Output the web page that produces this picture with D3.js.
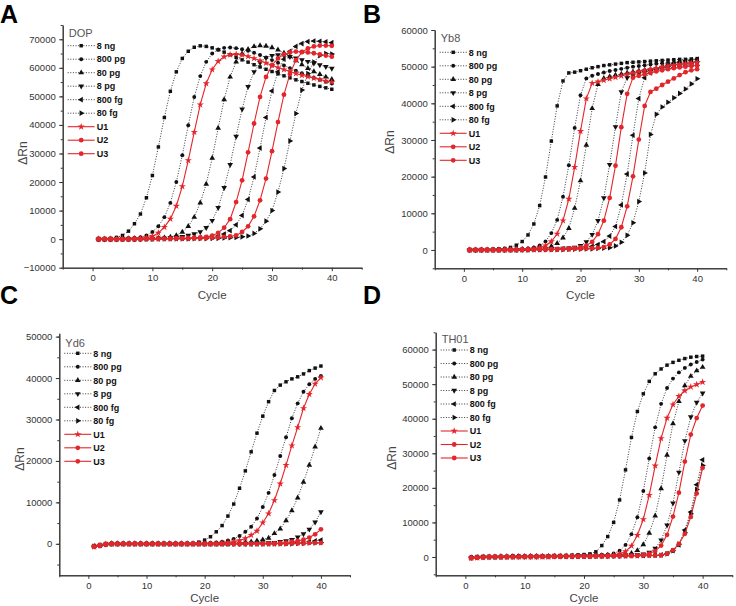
<!DOCTYPE html>
<html>
<head>
<meta charset="utf-8">
<script src="https://cdn.jsdelivr.net/npm/d3@7"></script>
<style>
body{margin:0;background:#fff;}
svg{display:block;font-family:Arial,"Liberation Sans",sans-serif;}
</style>
</head>
<body>
<div id="chart"></div>
<script>
// cycle numbers (x) and legend labels
const cycles = [1,2,3,4,5,6,7,8,9,10,11,12,13,14,15,16,17,18,19,20,21,22,23,24,25,26,27,28,29,30,31,32,33,34,35,36,37,38,39,40];
const labels = ["8 ng","800 pg","80 pg","8 pg","800 fg","80 fg","U1","U2","U3"];
const xTicks = [0,10,20,30,40];

// ---- A : DOP ----
const dop_8ng  = [0,100,200,600,1300,2800,5400,8800,14500,22300,32300,42600,51800,58600,63300,65800,67200,67700,67500,67000,66300,65500,64600,63700,62800,62000,61100,60300,59500,58700,57900,57200,56500,55800,55200,54600,54000,53500,53000,52500];
const dop_800pg = [0,0,100,100,200,300,400,700,1300,2500,4500,7700,12700,20000,29400,39900,49800,57100,62100,65000,66400,67000,67100,66900,66500,66000,65300,64500,63600,62700,61800,60800,59900,59000,58100,57300,56500,55800,55100,54500];
const dop_80pg = [0,0,0,100,100,100,200,200,200,300,400,500,700,1300,2500,4500,7700,12700,19300,28400,38900,48900,56800,62100,65000,66500,67500,67800,67600,67100,66300,65200,63900,62500,61100,59800,58700,57700,56800,56000];
const dop_8pg = [0,0,0,0,100,100,100,100,200,200,300,300,400,600,900,1300,1800,2500,4000,6500,11000,18000,26100,36000,45500,53400,58600,61800,63500,64300,64500,64300,63900,63400,62800,62200,61600,61000,60400,59800];
const dop_800fg = [0,0,0,0,0,0,0,100,100,100,100,200,200,200,300,300,400,500,600,800,1100,1800,3000,5000,8300,13900,21800,31900,42600,51900,58600,63000,65800,67500,68500,69200,69400,69300,69100,68800];
const dop_80fg = [0,0,0,0,0,0,0,0,0,0,100,100,100,100,100,100,200,200,200,300,300,400,500,600,800,1100,2000,3600,6300,10000,16500,24700,34400,44000,52200,58000,62000,64300,65000,64800];
const dop_U1 = [0,0,0,0,100,100,200,300,500,1000,2200,4200,7100,11600,18500,27600,37500,47100,54500,59400,62300,63900,64600,64800,64500,64000,63300,62500,61700,60900,60100,59400,58700,58000,57400,56900,56400,55900,55400,55000];
const dop_U2 = [0,0,0,0,0,0,100,100,100,100,200,200,200,300,300,400,500,600,800,1200,2200,4000,7000,13000,20600,30400,40500,49800,56800,60900,63300,64700,65400,65700,65600,65400,65100,64700,64300,63900];
const dop_U3 = [0,0,0,0,0,0,0,0,100,100,100,100,100,200,200,200,300,300,400,500,600,800,1000,1300,2500,4500,8000,13600,21200,30800,41000,50600,57800,62700,65500,66800,67500,67800,67800,67700];
const dopTicks = [-10000,0,10000,20000,30000,40000,50000,60000,70000];

// ---- B : Yb8 ----
const yb8_8ng = [0,0,100,100,200,300,400,700,1300,2300,4100,7100,12100,19900,29700,39300,46100,48300,48500,48900,49300,49700,50000,50300,50500,50700,50900,51100,51200,51300,51400,51500,51600,51700,51800,51900,52000,52000,52100,52200];
const yb8_800pg = [0,0,0,0,100,100,100,200,200,300,400,700,1200,2300,4600,8200,14500,23100,33300,42200,46800,47500,48000,48400,48800,49100,49400,49700,50000,50200,50400,50600,50800,50900,51000,51100,51200,51300,51400,51500];
const yb8_80pg = [0,0,0,0,0,0,100,100,100,200,200,300,400,600,1000,1800,3300,5900,11400,18900,28600,38600,45200,46800,47300,47700,48000,48300,48600,48900,49100,49300,49500,49700,49900,50100,50200,50400,50500,50600];
const yb8_8pg = [0,0,0,0,0,0,0,100,100,100,100,200,200,200,300,300,400,500,700,1200,2200,4200,8000,14200,23300,33600,43100,47000,47600,48100,48500,48900,49300,49600,49900,50200,50400,50600,50800,51000];
const yb8_800fg = [0,0,0,0,0,0,0,0,0,100,100,100,100,200,200,200,300,300,400,500,700,1000,1500,2300,3800,6400,12300,20700,31300,41300,47000,48300,49200,49900,50400,50900,51300,51600,51800,52000];
const yb8_80fg = [0,0,0,0,0,0,0,0,0,0,0,100,100,100,100,100,100,200,200,200,300,300,400,500,600,1100,2100,4000,7400,13200,21000,31500,37000,39000,40300,41500,42700,43900,45300,46700];
const yb8_U1 = [0,0,0,0,0,0,100,100,100,200,200,300,600,1200,2300,4400,8000,13900,22600,32400,41300,45500,45900,46300,46700,47100,47500,47900,48300,48700,49000,49300,49600,49900,50200,50400,50600,50800,51000,51200];
const yb8_U2 = [0,0,0,0,0,0,0,0,100,100,100,100,200,200,200,200,300,400,500,700,1200,2200,4300,8000,14200,23000,33500,42600,47000,47500,47900,48300,48700,49000,49300,49600,49800,50000,50200,50300];
const yb8_U3 = [0,0,0,0,0,0,0,0,0,0,100,100,100,100,100,200,200,200,300,300,400,500,600,800,1500,3000,6200,11900,20100,30100,39300,43100,44000,45000,45900,46800,47700,48500,49000,49300];
const yb8Ticks = [0,10000,20000,30000,40000,50000,60000];

// ---- C : Yd6 ----
const yd6_8ng = [-600,-400,-100,0,0,0,0,0,0,0,0,0,0,0,0,0,0,0,400,900,1700,2900,4400,6700,9600,13400,17600,22200,26700,30800,34300,37000,38300,39100,39800,40300,41000,41800,42400,42900];
const yd6_800pg = [-600,-400,-100,0,0,0,0,0,0,0,0,0,0,0,0,0,0,0,0,0,200,300,500,800,1200,1900,2900,4100,6100,8900,12300,16600,21200,25700,30300,33900,36700,38500,39800,40500];
const yd6_80pg = [-600,-400,-100,0,0,0,0,0,0,0,0,0,0,0,0,0,0,0,0,0,0,0,0,0,100,200,300,500,700,1000,1400,2500,3600,5600,8000,11100,14900,19000,23400,27900];
const yd6_8pg = [-600,-400,-100,0,0,0,0,0,0,0,0,0,0,0,0,0,0,0,0,0,0,0,0,0,0,0,0,0,100,100,200,300,500,700,1000,1600,2400,3500,5200,7700];
const yd6_800fg = [-600,-400,-100,0,0,0,0,0,0,0,0,0,0,0,0,0,0,0,0,0,0,0,0,0,0,0,0,0,0,0,0,0,100,100,200,300,400,500,700,900];
const yd6_80fg = [-600,-400,-100,0,0,0,0,0,0,0,0,0,0,0,0,0,0,0,0,0,0,0,0,0,0,0,0,0,0,0,0,0,0,0,0,100,100,200,200,300];
const yd6_U1 = [-700,-400,-100,0,0,0,0,0,0,0,0,0,0,0,0,0,0,0,0,0,0,0,200,300,500,800,1300,2100,3100,5100,7300,10500,14500,19000,23700,28100,32700,36100,38600,40100];
const yd6_U2 = [-700,-400,-100,0,0,0,0,0,0,0,0,0,0,0,0,0,0,0,0,0,0,0,0,0,0,0,0,0,0,0,100,100,200,300,500,700,1000,1500,2300,3500];
const yd6_U3 = [-700,-400,-100,0,0,0,0,0,0,0,0,0,0,0,0,0,0,0,0,0,0,0,0,0,0,0,0,0,0,0,0,0,0,0,100,100,100,200,200,200];
const yd6Ticks = [0,10000,20000,30000,40000,50000];

// ---- D : TH01 ----
const th01_8ng = [-200,-100,0,0,100,100,100,200,200,200,300,300,300,300,400,400,400,500,600,700,900,1500,3300,5900,10000,16500,25200,34600,42100,47200,50800,53000,54400,55500,56300,56900,57400,57800,58000,58100];
const th01_800pg = [-200,-100,0,0,100,100,100,100,200,200,200,200,200,300,300,300,300,300,400,400,500,500,600,700,1000,1800,3500,6600,11500,19100,28500,37500,44300,48900,51600,53400,54700,55700,56400,57100];
const th01_80pg = [-200,-100,0,0,0,100,100,100,100,100,200,200,200,200,200,200,300,300,300,300,300,400,400,500,500,600,600,1100,1900,3600,6900,11900,19800,29500,38600,45000,49600,52300,53900,54900];
const th01_8pg = [-200,-100,0,0,0,0,100,100,100,100,100,100,200,200,200,200,200,200,300,300,300,300,300,300,400,400,500,500,600,800,1300,2500,4900,9200,15600,24500,33600,40500,44700,47400];
const th01_800fg = [-200,-100,0,0,0,0,0,100,100,100,100,100,100,100,200,200,200,200,200,200,200,300,300,300,300,300,300,400,400,400,500,500,600,1000,1800,3500,7800,13000,20900,28100];
const th01_80fg = [-200,-100,0,0,0,0,0,100,100,100,100,100,100,100,200,200,200,200,200,200,200,300,300,300,300,300,300,400,400,400,500,500,500,900,1800,3700,7000,12500,19500,26500];
const th01_U1 = [-300,-200,-100,0,0,0,0,0,100,100,100,100,100,100,200,200,200,200,200,200,300,300,300,300,500,900,1600,3200,6300,10900,17900,26400,34300,40200,44100,46500,48100,49200,49900,50600];
const th01_U2 = [-300,-200,-100,0,0,0,0,0,0,100,100,100,100,100,100,200,200,200,200,200,200,300,300,300,300,300,400,400,400,600,1000,1700,3300,6400,11700,18600,27600,35400,40200,43800];
const th01_U3 = [-300,-200,-100,0,0,0,0,0,0,100,100,100,100,100,100,100,200,200,200,200,200,200,200,300,300,300,300,300,400,400,400,400,500,1000,2000,3800,6700,11600,18400,25800];
const th01Ticks = [0,10000,20000,30000,40000,50000,60000];

const panels = [
  {letter:"A", lx:0, ly:23, title:"DOP", series:[dop_8ng,dop_800pg,dop_80pg,dop_8pg,dop_800fg,dop_80fg,dop_U1,dop_U2,dop_U3],
   yDomain:[-10000,75000], yTicks:dopTicks, left:62.7, right:361.7, top:25, bottom:267.7,
   titleDy:12, legDy:20.7, labX:23, labY:153, cycY:299},
  {letter:"B", lx:363, ly:23, title:"Yb8", series:[yb8_8ng,yb8_800pg,yb8_80pg,yb8_8pg,yb8_800fg,yb8_80fg,yb8_U1,yb8_U2,yb8_U3],
   yDomain:[-5000,60000], yTicks:yb8Ticks, left:434.7, right:726.3, top:30, bottom:268.3,
   titleDy:12, legDy:22.3, labX:390, labY:142, cycY:299},
  {letter:"C", lx:0, ly:304, title:"Yd6", series:[yd6_8ng,yd6_800pg,yd6_80pg,yd6_8pg,yd6_800fg,yd6_80fg,yd6_U1,yd6_U2,yd6_U3],
   yDomain:[-7600,50800], yTicks:yd6Ticks, left:59.3, right:350, top:333.3, bottom:575.3,
   titleDy:13.4, legDy:20, labX:20, labY:459, cycY:602},
  {letter:"D", lx:363, ly:304, title:"TH01", series:[th01_8ng,th01_800pg,th01_80pg,th01_8pg,th01_800fg,th01_80fg,th01_U1,th01_U2,th01_U3],
   yDomain:[-5300,65000], yTicks:th01Ticks, left:435.7, right:732.3, top:332.3, bottom:575.3,
   titleDy:10.4, legDy:17.7, labX:392, labY:458, cycY:602}
];

const red = "#e3262b";
const symTypes = [d3.symbolSquare,d3.symbolCircle,d3.symbolTriangle,d3.symbolTriangle,d3.symbolTriangle,d3.symbolTriangle,d3.symbolStar,d3.symbolCircle,d3.symbolCircle];
const symRot = [0,0,0,180,-90,90,0,0,0];
const symSize = [12,12,14,14,14,14,16,18,18];
const isRed = i => i >= 6;

const svg = d3.select("#chart").append("svg").attr("width",736).attr("height",606);

function styleAxis(sel){
  sel.attr("font-family","Arial, 'Liberation Sans', sans-serif").attr("font-size",9.5);
  sel.select(".domain").attr("stroke","#333");
  sel.selectAll(".tick line").attr("stroke","#333");
  sel.selectAll(".tick text").attr("fill","#333");
}

panels.forEach(p => {
  const g = svg.append("g");
  const x = d3.scaleLinear().domain([-5,45]).range([p.left,p.right]);
  const y = d3.scaleLinear().domain(p.yDomain).range([p.bottom,p.top]);

  // minor ticks
  const step = 5000;
  const minorY = d3.range(Math.ceil(p.yDomain[0]/step)*step, p.yDomain[1]+1, step);
  g.append("g").attr("transform",`translate(${p.left},0)`)
    .call(d3.axisLeft(y).tickValues(minorY).tickFormat("").tickSize(2).tickSizeOuter(0))
    .call(styleAxis);
  g.append("g").attr("transform",`translate(0,${p.bottom})`)
    .call(d3.axisBottom(x).tickValues([-5,5,15,25,35,45]).tickFormat("").tickSize(2).tickSizeOuter(0))
    .call(styleAxis);

  // main axes
  g.append("g").attr("transform",`translate(0,${p.bottom})`)
    .call(d3.axisBottom(x).tickValues(xTicks).tickFormat(d3.format("d")).tickSize(3.5).tickSizeOuter(0).tickPadding(3))
    .call(styleAxis);
  g.append("g").attr("transform",`translate(${p.left},0)`)
    .call(d3.axisLeft(y).tickValues(p.yTicks).tickFormat(d3.format("d")).tickSize(3.5).tickSizeOuter(0).tickPadding(3.5))
    .call(styleAxis);

  // axis titles
  g.append("text").attr("x",(x(-5)+x(45))/2).attr("y",p.cycY).attr("text-anchor","middle")
    .attr("font-size",11.5).attr("fill","#444").text("Cycle");
  g.append("text").attr("transform",`translate(${p.labX},${p.labY}) rotate(-90)`)
    .attr("text-anchor","middle").attr("dominant-baseline","central")
    .attr("font-size",12).attr("fill","#444").text("\u0394Rn");

  // panel letter
  svg.append("text").attr("x",p.lx).attr("y",p.ly).attr("font-size",25).attr("font-weight","bold")
    .attr("fill","#000").text(p.letter);

  const line = d3.line().x((d,i)=>x(cycles[i])).y(d=>y(d));

  // black series first, then red
  const order = [0,1,2,3,4,5,6,7,8];
  order.forEach(i => {
    const vals = p.series[i];
    g.append("path").datum(vals).attr("d",line).attr("fill","none")
      .attr("stroke", isRed(i) ? red : "#222")
      .attr("stroke-width", isRed(i) ? 1.1 : 0.9)
      .attr("stroke-dasharray", isRed(i) ? null : "1,1.6");
    g.selectAll(null).data(vals).enter().append("path")
      .attr("d", d3.symbol().type(symTypes[i]).size(symSize[i]))
      .attr("transform",(d,k)=>`translate(${x(cycles[k])},${y(d)}) rotate(${symRot[i]})`)
      .attr("fill", isRed(i) ? red : "#111");
  });

  // legend
  const lg = g.append("g");
  lg.append("text").attr("x",p.left+6).attr("y",p.top+p.titleDy)
    .attr("font-size",11).attr("fill","#555").text(p.title);
  labels.forEach((lab,i) => {
    const yy = p.top + p.legDy + i*13.5;
    lg.append("line").attr("x1",p.left+5).attr("x2",p.left+32).attr("y1",yy).attr("y2",yy)
      .attr("stroke", isRed(i) ? red : "#222")
      .attr("stroke-width", isRed(i) ? 1.1 : 0.9)
      .attr("stroke-dasharray", isRed(i) ? null : "1,1.6");
    lg.append("path").attr("d", d3.symbol().type(symTypes[i]).size(symSize[i]))
      .attr("transform",`translate(${p.left+18.5},${yy}) rotate(${symRot[i]})`)
      .attr("fill", isRed(i) ? red : "#111");
    lg.append("text").attr("x",p.left+34).attr("y",yy+3.2)
      .attr("font-size",9).attr("font-weight","bold").attr("fill","#111").text(lab);
  });
});
</script>
</body>
</html>
